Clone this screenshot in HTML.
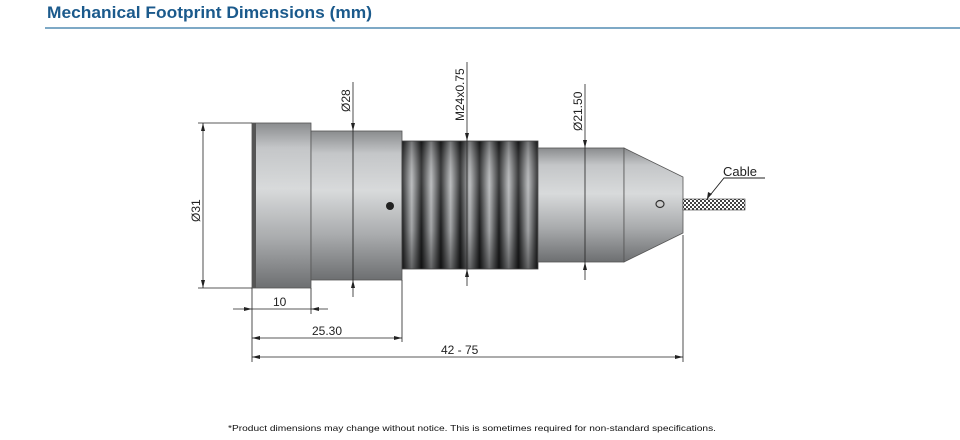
<!DOCTYPE html>
<html><head><meta charset="utf-8"><style>
body{margin:0;background:#fff;}
svg{display:block;}
</style></head><body>
<svg width="960" height="440" xmlns="http://www.w3.org/2000/svg" font-family="Liberation Sans, sans-serif">
<defs>
<linearGradient id="cyl" x1="0" y1="0" x2="0" y2="1">
<stop offset="0" stop-color="#8a8c8e"/><stop offset="0.15" stop-color="#c4c6c8"/><stop offset="0.4" stop-color="#d8dadb"/><stop offset="0.7" stop-color="#a9abad"/><stop offset="1" stop-color="#6d6f71"/>
</linearGradient>
<linearGradient id="rib" x1="0" y1="0" x2="1" y2="0">
<stop offset="0" stop-color="#1e1f20"/><stop offset="0.5" stop-color="#b5b7b9"/><stop offset="1" stop-color="#1e1f20"/>
</linearGradient>
<pattern id="ribs" x="402" y="0" width="19.4" height="440" patternUnits="userSpaceOnUse">
<rect width="19.4" height="440" fill="url(#rib)"/>
</pattern>
<linearGradient id="shade" x1="0" y1="0" x2="0" y2="1">
<stop offset="0" stop-color="#000" stop-opacity="0.35"/><stop offset="0.35" stop-color="#fff" stop-opacity="0.1"/><stop offset="0.7" stop-color="#000" stop-opacity="0.1"/><stop offset="1" stop-color="#000" stop-opacity="0.45"/>
</linearGradient>
<pattern id="mesh" width="4" height="4" patternUnits="userSpaceOnUse">
<rect width="4" height="4" fill="#fff"/><rect width="2" height="2" fill="#444"/><rect x="2" y="2" width="2" height="2" fill="#444"/>
</pattern>
</defs>

<text x="47" y="18" font-size="16.5" font-weight="bold" fill="#1b5a8c" textLength="325" lengthAdjust="spacingAndGlyphs">Mechanical Footprint Dimensions (mm)</text>
<rect x="45" y="27" width="915" height="2" fill="#7ea9c6"/>

<rect x="252" y="123" width="59" height="165" fill="url(#cyl)" stroke="#555" stroke-width="0.8"/>
<rect x="252" y="123" width="4" height="165" fill="#555"/>
<rect x="311" y="131" width="91" height="149" fill="url(#cyl)" stroke="#555" stroke-width="0.8"/>
<rect x="402" y="141" width="136" height="128" fill="url(#ribs)"/>
<rect x="402" y="141" width="136" height="128" fill="url(#shade)" stroke="#444" stroke-width="0.8"/>
<rect x="538" y="148" width="86" height="114" fill="url(#cyl)" stroke="#555" stroke-width="0.8"/>
<polygon points="624,148 683,177 683,233 624,262" fill="url(#cyl)" stroke="#555" stroke-width="0.8"/>
<circle cx="390" cy="206" r="4" fill="#222"/>
<ellipse cx="660" cy="204" rx="4" ry="3.5" fill="#ccc" stroke="#333" stroke-width="1.2"/>

<rect x="683" y="199" width="62" height="11" fill="url(#mesh)" stroke="#333" stroke-width="0.6"/>
<polyline points="707,199 724,178 765,178" fill="none" stroke="#222" stroke-width="0.9"/>
<polygon points="707,199 708,192 712,194" fill="#222"/>
<text x="723" y="176" font-size="13" fill="#222">Cable</text>

<g stroke="#222" stroke-width="0.8" fill="none">
<line x1="203" y1="123" x2="203" y2="288"/>
<line x1="198" y1="123" x2="252" y2="123"/>
<line x1="198" y1="288" x2="252" y2="288"/>
<line x1="353" y1="82" x2="353" y2="297"/>
<line x1="467" y1="62" x2="467" y2="286"/>
<line x1="585" y1="84" x2="585" y2="280"/>
<line x1="252" y1="288" x2="252" y2="362"/>
<line x1="311" y1="288" x2="311" y2="314"/>
<line x1="402" y1="280" x2="402" y2="342"/>
<line x1="683" y1="235" x2="683" y2="362"/>
<line x1="233" y1="309" x2="328" y2="309"/>
<line x1="252" y1="338" x2="402" y2="338"/>
<line x1="252" y1="357" x2="683" y2="357"/>
</g>
<g fill="#222">
<polygon points="203,123 201,131 205,131"/><polygon points="203,288 201,280 205,280"/>
<polygon points="353,131 351,123 355,123"/><polygon points="353,280 351,288 355,288"/>
<polygon points="467,141 465,133 469,133"/><polygon points="467,269 465,277 469,277"/>
<polygon points="585,148 583,140 587,140"/><polygon points="585,262 583,270 587,270"/>
<polygon points="252,309 244,307 244,311"/><polygon points="311,309 319,307 319,311"/>
<polygon points="252,338 260,336 260,340"/><polygon points="402,338 394,336 394,340"/>
<polygon points="252,357 260,355 260,359"/><polygon points="683,357 675,355 675,359"/>
</g>
<g font-size="12" fill="#222">
<text transform="translate(200,222) rotate(-90)">Ø31</text>
<text transform="translate(350,112) rotate(-90)">Ø28</text>
<text transform="translate(464,121) rotate(-90)">M24x0.75</text>
<text transform="translate(582,131) rotate(-90)">Ø21.50</text>
<text x="273" y="306">10</text>
<text x="312" y="335">25.30</text>
<text x="441" y="354">42 - 75</text>
</g>

<text x="228" y="431" font-size="8.5" fill="#111" textLength="488" lengthAdjust="spacingAndGlyphs">*Product dimensions may change without notice. This is sometimes required for non-standard specifications.</text>
</svg>
</body></html>
